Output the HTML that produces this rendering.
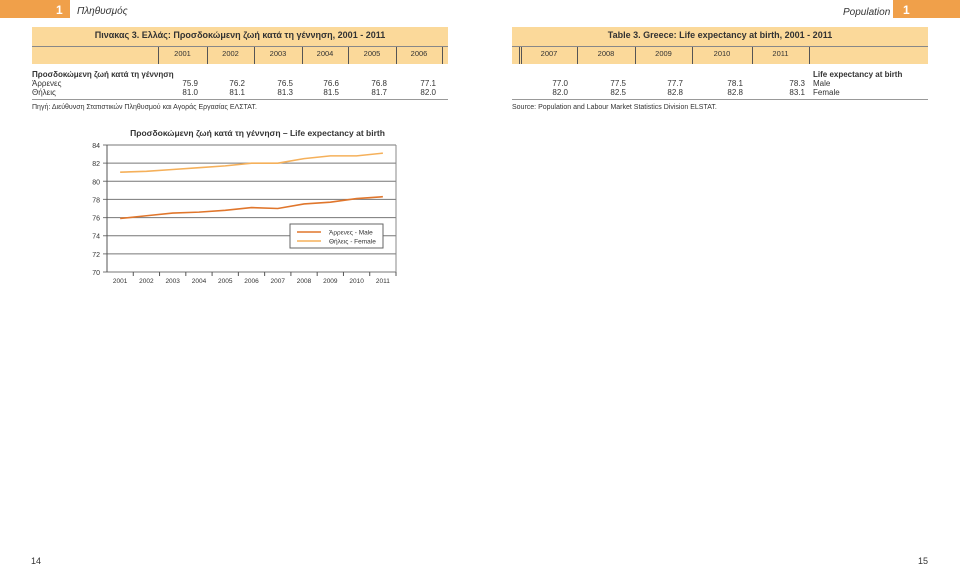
<!DOCTYPE html>
<html><head><meta charset="utf-8"><style>
body{margin:0;width:960px;height:567px;position:relative;background:#fff;font-family:"Liberation Sans",sans-serif;color:#333;overflow:hidden}
.a{position:absolute;white-space:nowrap}
.bar{position:absolute;background:#fbd99a}
.s{font-size:8px}
.r{text-align:right}
.vl{position:absolute;width:1px;background:#555}
</style></head><body>
<div class="a" style="left:0;top:0;width:70px;height:18px;background:#f0a04a"></div>
<div class="a" style="left:56px;top:3px;color:#fff;font-size:12px;font-weight:bold">1</div>
<div class="a" style="left:77px;top:6px;font-size:10px;font-style:italic">Πληθυσμός</div>
<div class="a" style="left:843px;top:7px;font-size:10px;font-style:italic">Population</div>
<div class="a" style="left:893px;top:0;width:67px;height:18px;background:#f0a04a"></div>
<div class="a" style="left:903px;top:3px;color:#fff;font-size:12px;font-weight:bold">1</div>

<div class="bar" style="left:32px;top:27px;width:416px;height:37px"></div>
<div class="a" style="left:32px;top:46px;width:416px;height:1px;background:#888"></div>
<div class="a" style="left:32px;top:30px;width:416px;text-align:center;font-size:9px;font-weight:bold">Πινακας 3. Ελλάς: Προσδοκώμενη ζωή κατά τη γέννηση, 2001 - 2011</div>
<div class="bar" style="left:512px;top:27px;width:416px;height:37px"></div>
<div class="a" style="left:512px;top:46px;width:416px;height:1px;background:#888"></div>
<div class="a" style="left:512px;top:30px;width:416px;text-align:center;font-size:9px;font-weight:bold">Table 3. Greece: Life expectancy at birth, 2001 - 2011</div>
<div id="cols"></div>

<div class="a s" style="left:32px;top:70px;font-weight:bold">Προσδοκώμενη ζωή κατά τη γέννηση</div>
<div class="a s" style="left:32px;top:79px">Άρρενες</div>
<div class="a s" style="left:32px;top:88px">Θήλεις</div>
<div class="a s" style="left:813px;top:70px;font-weight:bold">Life expectancy at birth</div>
<div class="a s" style="left:813px;top:79px">Male</div>
<div class="a s" style="left:813px;top:88px">Female</div>
<div class="a" style="left:32px;top:99px;width:416px;height:1px;background:#999"></div>
<div class="a" style="left:512px;top:99px;width:416px;height:1px;background:#999"></div>
<div class="a" style="left:32px;top:104px;font-size:7px">Πηγή: Διεύθυνση Στατιστικών Πληθυσμού και Αγοράς Εργασίας ΕΛΣΤΑΤ.</div>
<div class="a" style="left:512px;top:104px;font-size:7px">Source: Population and Labour Market Statistics Division ELSTAT.</div>

<svg class="a" id="chart" style="left:0;top:0" width="960" height="567"></svg>

<div class="a" style="left:31px;top:556px;font-size:9px">14</div>
<div class="a" style="left:918px;top:556px;font-size:9px">15</div>

<script>
const years=["2001","2002","2003","2004","2005","2006","2007","2008","2009","2010","2011"];
const male=[75.9,76.2,76.5,76.6,76.8,77.1,77.0,77.5,77.7,78.1,78.3];
const female=[81.0,81.1,81.3,81.5,81.7,82.0,82.0,82.5,82.8,82.8,83.1];
const yTicks=[70,72,74,76,78,80,82,84];

// tables
const cols=document.getElementById('cols');
function div(style,text,name){const d=document.createElement('div');d.className='a s';d.style.cssText=style;d.textContent=text;


cols.appendChild(d);return d;}
const leftB=[158,207,254,302,348,396,442], rightB=[521,577,635,692,752,809];
for(let i=0;i<6;i++){
  div(`left:${leftB[i]}px;top:49px;width:${leftB[i+1]-leftB[i]}px;text-align:center;font-size:7.5px`,years[i],'year-header');
  div(`left:${leftB[i+1]-60}px;top:79px;width:${i==5?(60-6):(60-9)}px;text-align:right`,male[i].toFixed(1),'male-value');
  div(`left:${leftB[i+1]-60}px;top:88px;width:${i==5?(60-6):(60-9)}px;text-align:right`,female[i].toFixed(1),'female-value');
}
for(let i=0;i<5;i++){
  div(`left:${rightB[i]}px;top:49px;width:${rightB[i+1]-rightB[i]}px;text-align:center;font-size:7.5px`,years[6+i],'year-header');
  div(`left:${rightB[i+1]-62}px;top:79px;width:${i==4?58:53}px;text-align:right`,male[6+i].toFixed(1),'male-value');
  div(`left:${rightB[i+1]-62}px;top:88px;width:${i==4?58:53}px;text-align:right`,female[6+i].toFixed(1),'female-value');
}
[...leftB,...rightB,519].forEach(x=>{const v=document.createElement('div');v.className='vl';v.style.cssText=`left:${x}px;top:47px;height:17px`;


cols.appendChild(v);});

// chart
const NS='http://www.w3.org/2000/svg', svg=document.getElementById('chart');
const L=107,R=396,T=145,B=272,ymin=70,ymax=84;
const step=(R-L)/years.length;
const xs=i=>L+step*(i+0.5);
const ys=v=>B-(v-ymin)/(ymax-ymin)*(B-T);
function el(tag,attrs,txt){const e=document.createElementNS(NS,tag);for(const k in attrs)e.setAttribute(k,attrs[k]);if(txt!=null)e.textContent=txt;svg.appendChild(e);return e;}
let t=el('text',{x:(L+R)/2+6,y:136,'text-anchor':'middle','font-size':'8.5','font-weight':'bold',fill:'#333'},'Προσδοκώμενη ζωή κατά τη γέννηση – Life expectancy at birth');


yTicks.forEach(v=>{
  const g=el('line',{x1:L-4,x2:R,y1:ys(v),y2:ys(v),stroke:'#777','stroke-width':1});
  
  
  const l=el('text',{x:L-7,y:ys(v)+3,'text-anchor':'end','font-size':'7',fill:'#333'},v);
  
  
});
let ax=el('line',{x1:L,x2:L,y1:T,y2:B,stroke:'#555'});


let rx=el('line',{x1:R,x2:R,y1:T,y2:B,stroke:'#888'});


years.forEach((y,i)=>{
  const tk=el('line',{x1:L+step*(i+1),x2:L+step*(i+1),y1:B,y2:B+4,stroke:'#555'});
  
  
  const l=el('text',{x:xs(i),y:B+11,'text-anchor':'middle','font-size':'6.5',fill:'#333'},y);
  
  
});
function line(d,c,name){const p=el('polyline',{points:d.map((v,i)=>xs(i)+','+ys(v)).join(' '),fill:'none',stroke:c,'stroke-width':1.6});

}
line(female,'#f5b05a','female-line');
line(male,'#e0762c','male-line');
let lg=el('rect',{x:290,y:224,width:93,height:24,fill:'#fff',stroke:'#666'});


[['Άρρενες - Male','#e0762c',232],['Θήλεις - Female','#f5b05a',241]].forEach(([s,c,y])=>{
  const ln=el('line',{x1:297,x2:321,y1:y,y2:y,stroke:c,'stroke-width':1.6});
  
  
  const tx=el('text',{x:329,y:y+2.5,'font-size':'6.5',fill:'#333'},s);
  
  
});
</script>
</body></html>
